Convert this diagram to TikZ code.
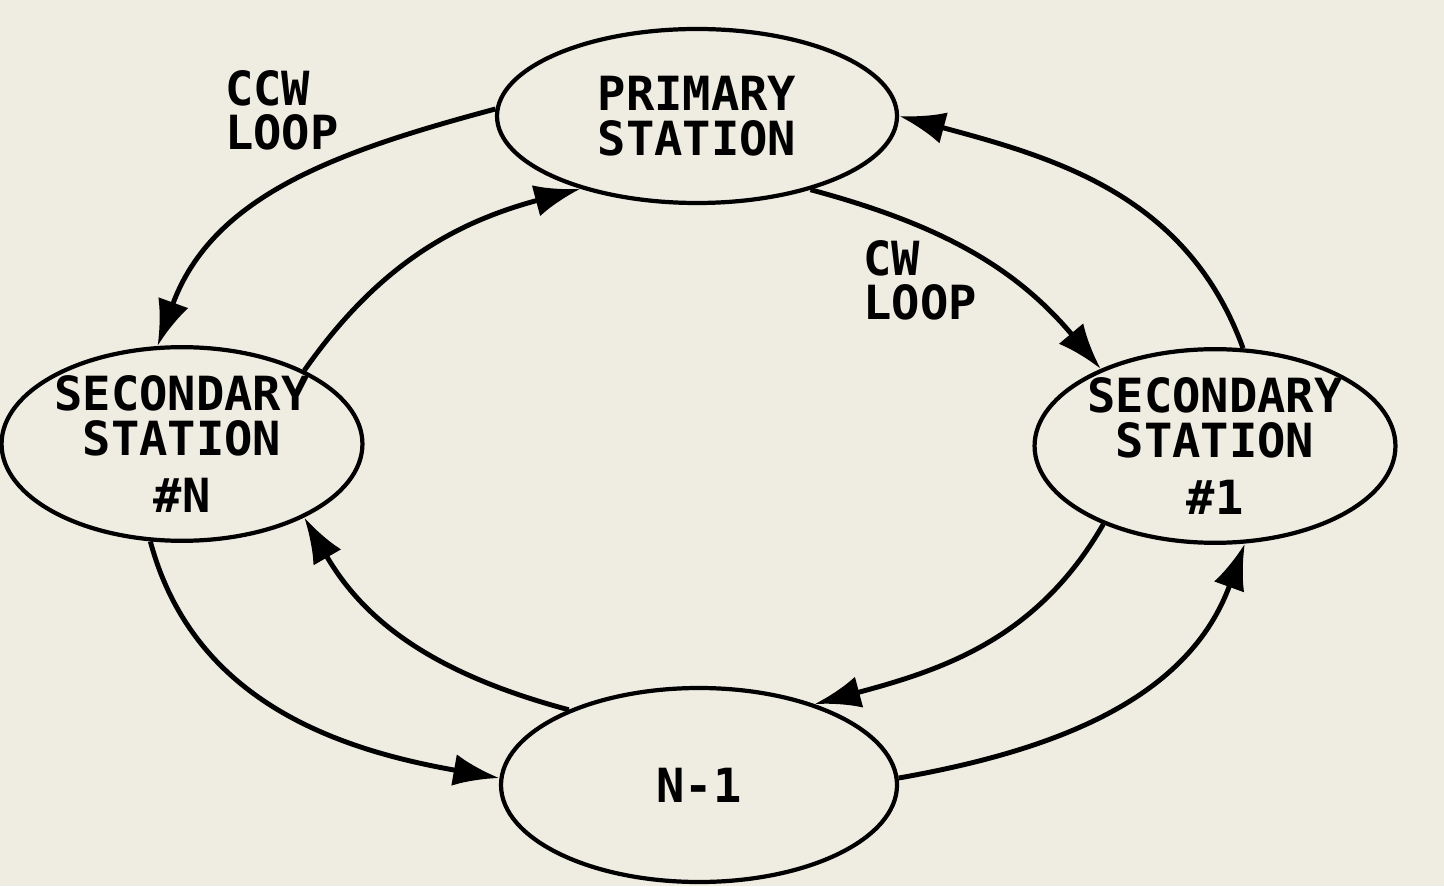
\documentclass[tikz,border=0pt]{standalone}
\usepackage{fontspec}
\setmainfont{DejaVu Sans Mono}
\usepackage{tikz}
\usetikzlibrary{shapes,arrows.meta,positioning}
\definecolor{paper}{HTML}{EFECE2}
\tikzset{station/.style={draw, 
                         ellipse, 
                         line width=1.2pt,
                         inner sep=0pt,
                         align=center,
                         font=\fontsize{13.4}{12.8}\selectfont\bfseries},
         looplabel/.style={align=left,
                           font=\fontsize{13.4}{12.5}\selectfont\bfseries},
         ring/.style={->, line width=1.4pt}}

\begin{document}
\begin{tikzpicture}[auto,>={Latex[length=4.6mm,width=3.2mm]}]
    % The paper
    \useasboundingbox [fill=paper] (0,0) rectangle (14.44,8.86);
    % We start by placing the stations
    \node [station, minimum width=4cm, minimum height=1.74cm] (Primary) at (6.97,7.70) {PRIMARY\\STATION};
    \node [station, minimum width=3.6cm, minimum height=1.72cm] (SecN) at (1.82,4.42) {SECONDARY\\STATION\\[0.12cm]\#N};
    \node [station, minimum width=3.6cm, minimum height=1.78cm] (SecOne) at (12.15,4.40) {SECONDARY\\STATION\\[0.12cm]\#1};
    \node [station, minimum width=3.96cm, minimum height=1.94cm] (Nminus) at (6.99,1.01) {N-1};
    \node [looplabel] (ccw) at (2.82,7.76) {CCW\\LOOP};
    \node [looplabel] (cw) at (9.20,6.06) {CW\\LOOP};
    % Outer ring goes counter clockwise
    \draw [ring] (Primary.178) to[out=195,in=70] (SecN.104);
    \draw [ring] (SecN.252) to[out=285,in=170] (Nminus.178);
    \draw [ring] (Nminus.2) to[out=10,in=250] (SecOne.287);
    \draw [ring] (SecOne.74) to[out=110,in=-15] (Primary.0);
    % Inner ring goes clockwise
    \draw [ring] (SecN.31) to[out=55,in=195] (Primary.212);
    \draw [ring] (Primary.327) to[out=-15,in=130] (SecOne.146);
    \draw [ring] (SecOne.215) to[out=240,in=15] (Nminus.35);
    \draw [ring] (Nminus.150) to[out=165,in=-60] (SecN.329);
\end{tikzpicture}
\end{document}
